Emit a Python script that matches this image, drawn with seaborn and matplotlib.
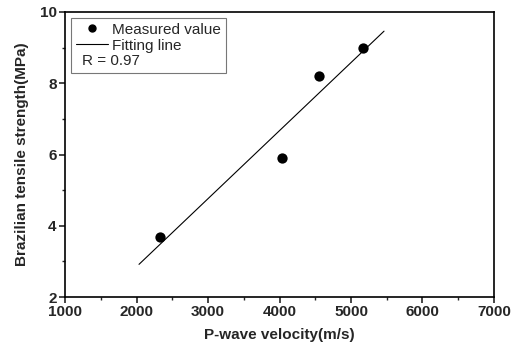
import matplotlib
matplotlib.use("Agg")
import matplotlib.pyplot as plt
import seaborn as sns
import pandas as pd
from matplotlib.lines import Line2D
from matplotlib.ticker import MultipleLocator
from matplotlib.transforms import Affine2D

velocity = [2330, 4035, 4552, 5168]
strength = [3.7, 5.9, 8.2, 9.0]
fit_x = [2035, 5462]
fit_y = [2.92, 9.46]
r_text = "R = 0.97"

sns.set_style("white")
plt.rcParams['font.family'] = ['Liberation Sans', 'DejaVu Sans']

fig = plt.figure(figsize=(5.2, 3.5), dpi=100)
ax = fig.add_axes([0.125, 0.151, 0.825, 0.815])

df = pd.DataFrame({"v": velocity, "s": strength})
sns.scatterplot(data=df, x="v", y="s", ax=ax, color="black", s=55,
                edgecolor="black", linewidth=0, zorder=3)
sns.lineplot(x=fit_x, y=fit_y, ax=ax, color="black", linewidth=0.8)

ax.set_xlim(1000, 7000)
ax.set_ylim(2, 10)
ax.xaxis.set_major_locator(MultipleLocator(1000))
ax.xaxis.set_minor_locator(MultipleLocator(500))
ax.yaxis.set_major_locator(MultipleLocator(2))
ax.yaxis.set_minor_locator(MultipleLocator(1))
ax.tick_params(axis='both', which='major', direction='out', length=4, width=1.2,
               labelsize=11, bottom=True, left=True, top=False, right=False, pad=2)
ax.tick_params(axis='both', which='minor', direction='out', length=2.5, width=1.0,
               bottom=True, left=True, top=False, right=False)
for lab in ax.get_xticklabels() + ax.get_yticklabels():
    lab.set_fontweight('bold')
for sp in ax.spines.values():
    sp.set_color("black")
    sp.set_linewidth(1.2)

ax.set_xlabel("P-wave velocity(m/s)", fontsize=11, fontweight='bold', labelpad=6)
ax.set_ylabel("Brazilian tensile strength(MPa)", fontsize=11, fontweight='bold', labelpad=8)

handles = [
    Line2D([], [], marker='o', color='black', linestyle='None', markersize=5),
    Line2D([], [], color='black', linewidth=0.8),
    Line2D([], [], linestyle='None', marker=None),
]
labels = ["Measured value", "Fitting line", r_text]
leg = ax.legend(handles, labels, loc='upper left', fontsize=11, frameon=True,
                fancybox=False, edgecolor='#555555', borderpad=0.3,
                labelspacing=0.12, handlelength=2.1, handletextpad=0.3,
                bbox_to_anchor=(0.014, 0.978), borderaxespad=0.0)
leg.get_frame().set_linewidth(0.8)
# shift the R text to the left edge of the legend box
rt = leg.get_texts()[2]
rt.set_transform(rt.get_transform() + Affine2D().translate(-30, 0))

fig.savefig("out.png", dpi=100)
